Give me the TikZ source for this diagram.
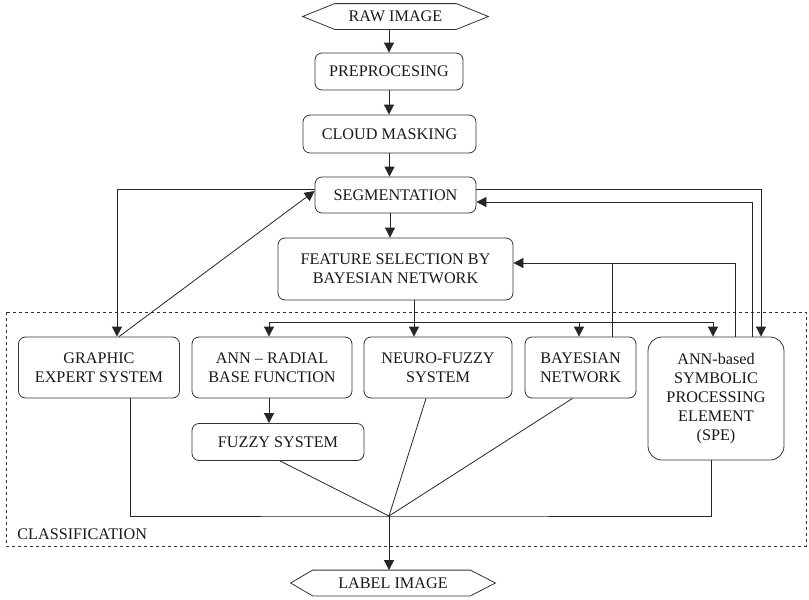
\documentclass[tikz,border=0pt]{standalone}
\usepackage{fontspec}
\setmainfont{Liberation Serif}
\usetikzlibrary{arrows.meta}
\begin{document}
\begin{tikzpicture}[x=1pt,y=-1pt,
  line width=0.8pt, draw=black!85,
  box/.style={draw=black!80, rounded corners=7pt, align=center, inner sep=1pt,
    font=\fontsize{16.2}{19}\selectfont, text=black!90},
  txt/.style={draw=none, align=center, inner sep=0pt,
    font=\fontsize{16.2}{19}\selectfont, text=black!90},
  arr/.style={-{Triangle[length=10pt,width=10pt]}},
  ln/.style={draw=black!85}]
\useasboundingbox (0,0) rectangle (809,600);

% classification frame
\draw[dashed, line width=0.6pt, draw=black!80] (6,312) rectangle (806,546);
\node[txt, anchor=west] (cls) at (17,534) {CLASSIFICATION};

% top hexagon
\node[txt, minimum width=185, minimum height=25] (raw) at (395.5,16.5) {RAW IMAGE};
\draw[draw=black!80] (raw.west) -- ([xshift=32]raw.north west) -- ([xshift=-32]raw.north east)
  -- (raw.east) -- ([xshift=-32]raw.south east) -- ([xshift=32]raw.south west) -- cycle;

\node[box, minimum width=148, minimum height=37] (pre) at (389,71.5) {PREPROCESING};
\node[box, minimum width=173, minimum height=38] (cloud) at (389.5,134) {CLOUD MASKING};
\node[box, minimum width=161, minimum height=36] (seg) at (395.5,195) {SEGMENTATION};
\node[box, minimum width=235, minimum height=62] (feat) at (395.5,269) {FEATURE SELECTION BY\\BAYESIAN NETWORK};

\node[box, minimum width=161, minimum height=61] (graphic) at (99,367.5) {GRAPHIC\\EXPERT SYSTEM};
\node[box, minimum width=160, minimum height=61] (ann) at (272,367.5) {ANN -- RADIAL\\BASE FUNCTION};
\node[box, minimum width=148, minimum height=61] (neuro) at (438,367.5) {NEURO-FUZZY\\SYSTEM};
\node[box, minimum width=111, minimum height=61] (bayes) at (580.5,367.5) {BAYESIAN\\NETWORK};
\node[box, minimum width=136, minimum height=123, rounded corners=14pt] (spe) at (716,398.5) {ANN-based\\SYMBOLIC\\PROCESSING\\ELEMENT\\(SPE)};
\node[box, minimum width=172, minimum height=37] (fuzzy) at (278,442) {FUZZY SYSTEM};

% bottom hexagon
\node[txt, minimum width=204, minimum height=25] (label) at (393,583) {LABEL IMAGE};
\draw[draw=black!80] (label.west) -- ([xshift=22]label.north west) -- ([xshift=-25]label.north east)
  -- (label.east) -- ([xshift=-25]label.south east) -- ([xshift=22]label.south west) -- cycle;

% main chain
\draw[arr] (pre.north |- raw.south) -- (pre.north);
\draw[arr] (pre.south) -- (pre.south |- cloud.north);
\draw[arr] (cloud.south) -- (cloud.south |- seg.north);
\coordinate (sx) at (390,0);
\draw[arr] (sx |- seg.south) -- (sx |- feat.north);

% segmentation <-> graphic
\draw[arr] ([yshift=6]seg.west) -| ([xshift=18]graphic.north);
\draw[arr] ([xshift=20]graphic.north) -- ([yshift=4]seg.west);

% segmentation <-> SPE
\draw[arr] ([yshift=6]seg.east) -| ([xshift=45]spe.north);
\draw[arr] ([xshift=36]spe.north) |- ([yshift=-7]seg.east);

% SPE / Bayes -> feature selection
\coordinate (fin) at ([yshift=6]feat.east);
\draw[arr] ([xshift=19]spe.north) |- (fin);
\coordinate (bx) at ([xshift=31.5]bayes.north);
\draw (bx) -- (bx |- fin);

% feature selection bus
\coordinate (fb) at (414,322);
\coordinate (busL) at (269,322);
\coordinate (busR) at (713,322);
\draw (fb |- feat.south) -- (fb);
\draw (busL) -- (busR);
\draw[arr] (busL) -- (busL |- ann.north);
\draw[arr] (fb) -- (fb |- neuro.north);
\coordinate (bb) at (579,322);
\draw[arr] (bb) -- (bb |- bayes.north);
\draw[arr] (busR) -- (busR |- spe.north);

% ann -> fuzzy
\draw[arr] (busL |- ann.south) -- (busL |- fuzzy.north);

% outputs
\coordinate (J) at (389,516);
\draw ([xshift=31]graphic.south) |- (J) -| ([xshift=-5]spe.south);
\draw ([xshift=2]fuzzy.south) -- (J);
\draw ([xshift=-12]neuro.south) -- (J);
\draw ([xshift=-8]bayes.south) -- (J);
\draw[arr] (J) -- (J |- label.north);
\end{tikzpicture}
\end{document}
